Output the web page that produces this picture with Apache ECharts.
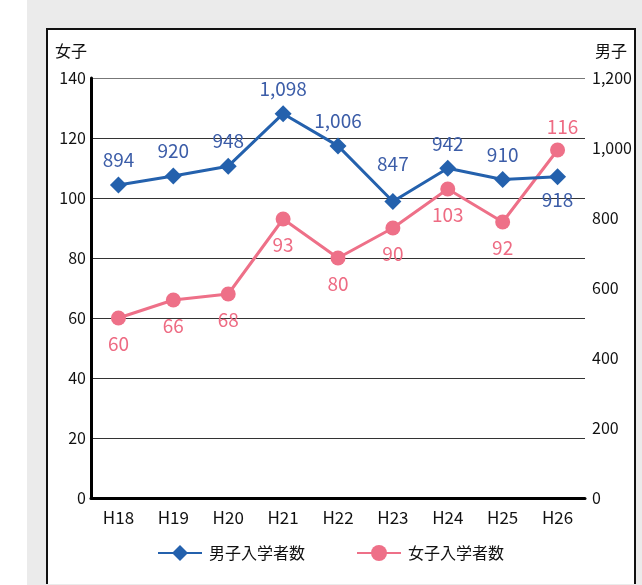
<!DOCTYPE html>
<html>
<head>
<meta charset="utf-8">
<script src="https://cdn.jsdelivr.net/npm/echarts@6/dist/echarts.min.js"></script>
<style>
html,body{margin:0;padding:0;background:#fff;}
#bg{position:absolute;left:27px;top:0;width:615px;height:585px;background:#ebebeb;}
#box{position:absolute;left:46px;top:28px;width:586px;height:554px;background:#fff;border:2px solid #111;border-bottom:none;}
#c{position:absolute;left:0;top:0;width:642px;height:585px;}
</style>
</head>
<body>
<div id="bg"></div>
<div id="box"></div>
<div id="c"></div>
<script>
const categories = ['H18','H19','H20','H21','H22','H23','H24','H25','H26'];
const boysValues = [894, 920, 948, 1098, 1006, 847, 942, 910, 918];
const girlsValues = [60, 66, 68, 93, 80, 90, 103, 92, 116];
const leftTicks = [0, 20, 40, 60, 80, 100, 120, 140];
const rightTicks = [0, 200, 400, 600, 800, 1000, 1200];

const FONT = '"Noto Sans CJK JP", "Noto Sans", sans-serif';
const BLUE = '#2461ad';
const BLUE_LABEL = '#3c5da8';
const PINK = '#ee7088';
const PINK_LABEL = '#ee6b83';

const boysData = boysValues.map((v, i) => {
  const d = { value: v };
  if (i === boysValues.length - 1) d.label = { position: 'bottom', distance: 5 };
  if (v === 847) d.label = { position: 'top', distance: 20 };
  return d;
});
const girlsData = girlsValues.map((v, i) => {
  const d = { value: v };
  if (i === girlsValues.length - 1) d.label = { position: 'top', distance: 6, offset: [5, 0] };
  return d;
});

const chart = echarts.init(document.getElementById('c'), null, { renderer: 'canvas' });
chart.setOption({
  backgroundColor: 'transparent',
  animation: false,
  textStyle: { fontFamily: FONT },
  grid: { left: 91, right: 57, top: 78, bottom: 87, containLabel: false },
  legend: {
    left: 157,
    top: 545,
    padding: 0,
    itemWidth: 44,
    itemHeight: 20,
    itemGap: 51,
    textStyle: { fontFamily: FONT, fontSize: 16, color: '#111', padding: [0, 0, 0, 2] },
    data: ['男子入学者数', '女子入学者数']
  },
  xAxis: {
    type: 'category',
    data: categories,
    boundaryGap: true,
    axisLine: { show: true, lineStyle: { color: '#000', width: 3 } },
    axisTick: { show: false },
    axisLabel: { color: '#111', fontSize: 17, margin: 11, fontFamily: FONT }
  },
  yAxis: [
    {
      type: 'value',
      min: leftTicks[0],
      max: leftTicks[leftTicks.length - 1],
      interval: leftTicks[1] - leftTicks[0],
      name: '女子',
      nameLocation: 'end',
      nameGap: 19,
      nameTextStyle: { color: '#111', fontSize: 16, align: 'right', padding: [0, 4, 0, 0], fontFamily: FONT },
      axisLine: { show: true, lineStyle: { color: '#000', width: 3 } },
      axisTick: { show: false },
      axisLabel: { color: '#111', fontSize: 16, margin: 5, fontFamily: FONT },
      splitLine: { show: true, lineStyle: { color: ['#000', '#333', '#333', '#333', '#333', '#333', '#333', '#777'], width: 1 } }
    },
    {
      type: 'value',
      position: 'right',
      min: rightTicks[0],
      max: rightTicks[rightTicks.length - 1],
      interval: rightTicks[1] - rightTicks[0],
      name: '男子',
      nameLocation: 'end',
      nameGap: 19,
      nameTextStyle: { color: '#111', fontSize: 16, align: 'left', padding: [0, 0, 0, 10], fontFamily: FONT },
      axisLine: { show: false },
      axisTick: { show: false },
      splitLine: { show: false },
      axisLabel: {
        color: '#111', fontSize: 16, margin: 7, fontFamily: FONT,
        formatter: v => v.toLocaleString('en-US')
      }
    }
  ],
  series: [
    {
      name: '男子入学者数',
      type: 'line',
      yAxisIndex: 1,
      data: boysData,
      symbol: 'diamond',
      symbolSize: 17,
      lineStyle: { color: BLUE, width: 3 },
      itemStyle: { color: BLUE },
      label: { show: true, position: 'top', distance: 7, color: BLUE_LABEL, fontSize: 19, fontFamily: FONT,
        formatter: p => p.value.toLocaleString('en-US') },
      z: 3
    },
    {
      name: '女子入学者数',
      type: 'line',
      yAxisIndex: 0,
      data: girlsData,
      symbol: 'circle',
      symbolSize: 15,
      lineStyle: { color: PINK, width: 3 },
      itemStyle: { color: PINK },
      label: { show: true, position: 'bottom', distance: 9, color: PINK_LABEL, fontSize: 19, fontFamily: FONT },
      z: 2
    }
  ]
});
</script>
</body>
</html>
